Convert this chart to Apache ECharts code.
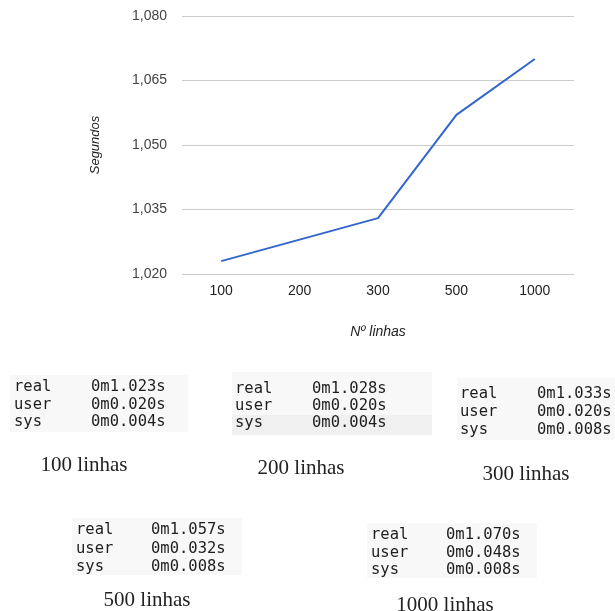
<!DOCTYPE html>
<html>
<head>
<meta charset="utf-8">
<script src="https://cdn.jsdelivr.net/npm/echarts@6/dist/echarts.min.js"></script>
<style>
  html, body { margin: 0; padding: 0; background: #fff; }
  #chart { width: 615px; height: 611px; }
</style>
</head>
<body>
<div id="chart"></div>
<script>
// Number of lines processed per run
const linhas = ['100', '200', '300', '500', '1000'];
// `time` output, in seconds
const realTimes = [1.023, 1.028, 1.033, 1.057, 1.070];
const userTimes = [0.020, 0.020, 0.020, 0.032, 0.048];
const sysTimes  = [0.004, 0.004, 0.008, 0.008, 0.008];
// Y axis ticks
const yMin = 1.020, yMax = 1.080, yStep = 0.015;

const fmtComma = v => v.toFixed(3).replace('.', ',');
const fmtTime = v => '0m' + v.toFixed(3) + 's';

// Placement of each terminal snippet: background box, text columns, first row, caption
const panels = [
  { box: [10, 375, 178, 57],  lx: 14,  vx: 91,  y0: 387, dy: 17.5, cap: [84, 465] },
  { box: [232, 372, 200, 63], lx: 235, vx: 312, y0: 389, dy: 17,   cap: [301, 468] },
  { box: [457, 378, 158, 62], lx: 460, vx: 537, y0: 394, dy: 18,   cap: [526, 474] },
  { box: [72, 518, 170, 57],  lx: 76,  vx: 151, y0: 530, dy: 18.5, cap: [147, 600] },
  { box: [367, 523, 170, 55], lx: 371, vx: 446, y0: 535, dy: 17.5, cap: [445, 605] }
];

const mono = { fontFamily: 'DejaVu Sans Mono', fontSize: 15.5, fill: '#1e1e1e' };
const graphics = [];
panels.forEach((p, i) => {
  graphics.push({
    type: 'rect', silent: true,
    shape: { x: p.box[0], y: p.box[1], width: p.box[2], height: p.box[3] },
    style: { fill: '#f8f8f8' }
  });
  if (i === 1) {
    // slightly darker highlight behind the last row of this snippet
    graphics.push({
      type: 'rect', silent: true,
      shape: { x: p.box[0], y: 415, width: p.box[2], height: 20 },
      style: { fill: '#f0f0f0' }
    });
  }
  const rows = [['real', realTimes[i]], ['user', userTimes[i]], ['sys', sysTimes[i]]];
  rows.forEach((r, k) => {
    const y = p.y0 + k * p.dy;
    graphics.push({ type: 'text', silent: true, x: p.lx, y: y,
      style: Object.assign({ text: r[0], verticalAlign: 'middle', align: 'left' }, mono) });
    graphics.push({ type: 'text', silent: true, x: p.vx, y: y,
      style: Object.assign({ text: fmtTime(r[1]), verticalAlign: 'middle', align: 'left' }, mono) });
  });
  graphics.push({
    type: 'text', silent: true, x: p.cap[0], y: p.cap[1],
    style: { text: linhas[i] + ' linhas', align: 'center', verticalAlign: 'middle',
      fontFamily: 'Liberation Serif', fontSize: 21, fill: '#222' }
  });
});

const chart = echarts.init(document.getElementById('chart'), null, { renderer: 'canvas' });
chart.setOption({
  animation: false,
  backgroundColor: '#fff',
  grid: { left: 182, right: 41, top: 16, bottom: 337, containLabel: false },
  xAxis: {
    type: 'category',
    data: linhas,
    boundaryGap: true,
    name: 'Nº linhas',
    nameLocation: 'middle',
    nameGap: 51,
    nameTextStyle: { fontFamily: 'Liberation Sans', fontSize: 14, fontStyle: 'italic', color: '#222' },
    axisLine: { show: false },
    axisTick: { show: false },
    axisLabel: { fontFamily: 'Liberation Sans', fontSize: 14, color: '#222', margin: 10 }
  },
  yAxis: {
    type: 'value',
    min: yMin, max: yMax, interval: yStep,
    name: 'Segundos',
    nameLocation: 'middle',
    nameGap: 80,
    nameRotate: 90,
    nameTextStyle: { fontFamily: 'Liberation Sans', fontSize: 13, fontStyle: 'italic', color: '#222' },
    axisLine: { show: false },
    axisTick: { show: false },
    axisLabel: { fontFamily: 'Liberation Sans', fontSize: 14, color: '#444', margin: 15,
      formatter: v => fmtComma(v) },
    splitLine: { lineStyle: { color: '#cccccc', width: 1 } }
  },
  series: [{
    type: 'line',
    data: realTimes,
    symbol: 'none',
    lineStyle: { color: '#3366cc', width: 2 },
    itemStyle: { color: '#3366cc' }
  }],
  graphic: graphics
});
</script>
</body>
</html>
